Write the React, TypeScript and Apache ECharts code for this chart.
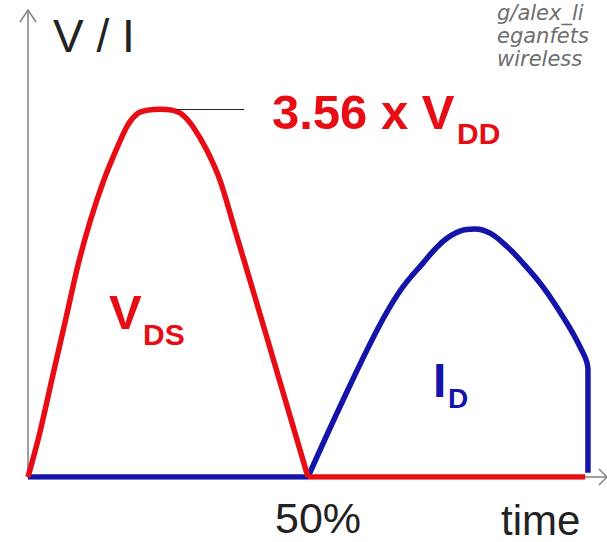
import React, { useEffect, useRef } from "react";
import * as echarts from "echarts";

// V_DS (red) hump: time in % of period, value in multiples of V_DD
const vdsTime = [0, 2.14, 4.46, 6.79, 8.93, 11.07, 13.39, 15.71, 17.86, 19.64, 21.43, 23.57, 25.71, 27.5, 29.46, 31.96, 34.29, 36.96, 40.54, 45.0, 50];
const vdsValue = [0, 0.435, 0.99, 1.54, 2.05, 2.47, 2.85, 3.16, 3.41, 3.52, 3.55, 3.56, 3.55, 3.51, 3.39, 3.16, 2.87, 2.39, 1.74, 0.92, 0];
const vdsFlatTime = [50, 99.5];
const vdsFlatValue = [0, 0];

// I_D (blue)
const idFlatTime = [0, 50];
const idFlatValue = [0, 0];
const idTime = [50, 55.71, 62.32, 66.43, 70.54, 74.11, 77.14, 79.82, 82.5, 85.54, 88.39, 91.96, 95.54, 98.57, 100, 100];
const idValue = [0, 0.68, 1.42, 1.8, 2.07, 2.28, 2.38, 2.4, 2.36, 2.23, 2.07, 1.84, 1.55, 1.26, 1.04, 0.04];

const peakValue = 3.56;
const leaderFrom = 26.5;
const leaderTo = 38.6;

const RED = "#e60d14";
const BLUE = "#1414aa";
const AXIS = "#808080";

const zip = (xs: number[], ys: number[]) => xs.map((x, i) => [x, ys[i]]);

export default function App() {
  const ref = useRef<HTMLDivElement>(null);
  useEffect(() => {
    if (!ref.current) return;
    const chart = echarts.init(ref.current, null, { renderer: "svg" });
    const lineCommon = {
      type: "line",
      showSymbol: false,
      symbol: "none",
      silent: true,
    };
    chart.setOption({
      animation: false,
      backgroundColor: "#ffffff",
      grid: { left: 28, right: 0, top: 12, bottom: 65, containLabel: false },
      xAxis: {
        type: "value",
        min: 0,
        max: 103.4,
        axisLine: { show: true, lineStyle: { color: AXIS, width: 1.5 } },
        axisTick: { show: false },
        axisLabel: { show: false },
        splitLine: { show: false },
      },
      yAxis: {
        type: "value",
        min: 0,
        max: 4.5,
        axisLine: { show: true, lineStyle: { color: AXIS, width: 1.5 } },
        axisTick: { show: false },
        axisLabel: { show: false },
        splitLine: { show: false },
      },
      series: [
        {
          ...lineCommon,
          name: "I_D flat",
          data: zip(idFlatTime, idFlatValue),
          lineStyle: { color: BLUE, width: 5.5, cap: "butt" },
        },
        {
          ...lineCommon,
          name: "I_D",
          data: zip(idTime, idValue),
          smooth: 0.4,
          lineStyle: { color: BLUE, width: 5.5, cap: "butt", join: "round" },
        },
        {
          ...lineCommon,
          name: "V_DS flat",
          data: zip(vdsFlatTime, vdsFlatValue),
          lineStyle: { color: RED, width: 5.5, cap: "butt" },
        },
        {
          ...lineCommon,
          name: "V_DS",
          data: zip(vdsTime, vdsValue),
          smooth: 0.3,
          lineStyle: { color: RED, width: 5.5, cap: "butt", join: "round" },
          markLine: {
            silent: true,
            symbol: ["none", "none"],
            label: { show: false },
            lineStyle: { color: "#222", width: 1.2, type: "solid" },
            data: [[{ coord: [leaderFrom, peakValue] }, { coord: [leaderTo, peakValue] }]],
          },
        },
      ],
      graphic: [
        { type: "polyline", shape: { points: [[20, 22], [28, 10], [36, 22]] }, style: { stroke: AXIS, lineWidth: 1.5, fill: "none" } },
        { type: "polyline", shape: { points: [[599, 469], [607, 477], [599, 485]] }, style: { stroke: AXIS, lineWidth: 1.5, fill: "none" } },
        { type: "text", style: { text: "V / I", x: 53, y: 36, font: '46px "Liberation Sans"', fill: "#222", verticalAlign: "middle" } },
        { type: "text", style: { text: "3.56 x V", x: 272, y: 112, font: 'bold 49px "Liberation Sans"', fill: RED, verticalAlign: "middle" } },
        { type: "text", style: { text: "DD", x: 457, y: 133, font: 'bold 30px "Liberation Sans"', fill: RED, verticalAlign: "middle" } },
        { type: "text", style: { text: "V", x: 109, y: 312, font: 'bold 49px "Liberation Sans"', fill: RED, verticalAlign: "middle" } },
        { type: "text", style: { text: "DS", x: 143, y: 334, font: 'bold 30px "Liberation Sans"', fill: RED, verticalAlign: "middle" } },
        { type: "text", style: { text: "I", x: 433, y: 380, font: 'bold 48px "Liberation Sans"', fill: BLUE, verticalAlign: "middle" } },
        { type: "text", style: { text: "D", x: 448, y: 398, font: 'bold 28px "Liberation Sans"', fill: BLUE, verticalAlign: "middle" } },
        { type: "text", style: { text: "50%", x: 275, y: 518, font: '43px "Liberation Sans"', fill: "#222", verticalAlign: "middle" } },
        { type: "text", style: { text: "time", x: 501, y: 520, font: '42px "Liberation Sans"', fill: "#222", verticalAlign: "middle" } },
        { type: "text", style: { text: "g/alex_li", x: 497, y: 13, font: 'italic 21px "DejaVu Sans"', fill: "#6e6e6e", verticalAlign: "middle" } },
        { type: "text", style: { text: "eganfets", x: 497, y: 36, font: 'italic 21px "DejaVu Sans"', fill: "#6e6e6e", verticalAlign: "middle" } },
        { type: "text", style: { text: "wireless", x: 497, y: 59, font: 'italic 21px "DejaVu Sans"', fill: "#6e6e6e", verticalAlign: "middle" } },
      ],
    });
    return () => chart.dispose();
  }, []);
  return (
    <div
      ref={ref}
      style={{ position: "absolute", left: 0, top: 0, width: 607, height: 542, background: "#fff" }}
    />
  );
}
